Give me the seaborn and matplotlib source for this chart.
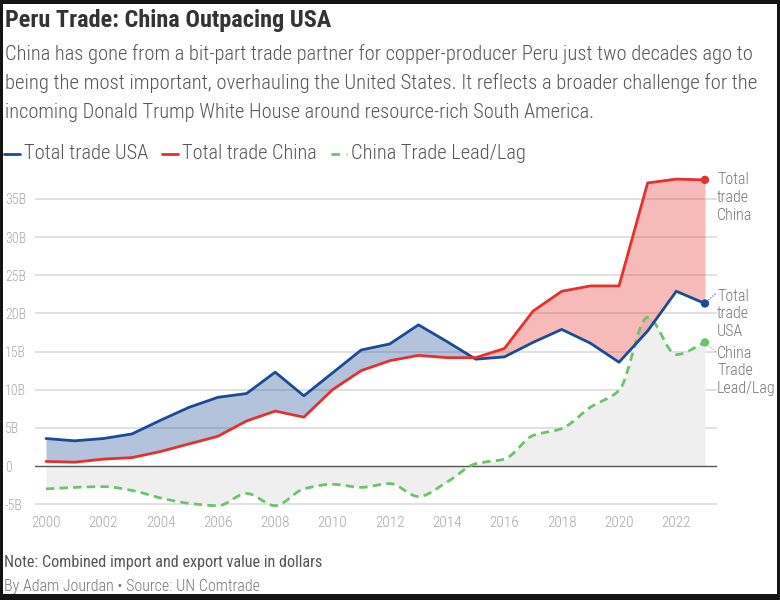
import numpy as np
import pandas as pd
import matplotlib
matplotlib.use("Agg")
import matplotlib.pyplot as plt
import seaborn as sns
from matplotlib import font_manager
from matplotlib.patches import Rectangle
from matplotlib.lines import Line2D

# ---------------- data ----------------
years = list(range(2000, 2024))
usa_trade = [3.6, 3.3, 3.6, 4.2, 6.0, 7.7, 9.0, 9.5, 12.3, 9.2, 12.2, 15.2,
             16.0, 18.5, 16.3, 14.0, 14.3, 16.2, 17.9, 16.1, 13.6, 17.7, 22.9, 21.3]
china_trade = [0.6, 0.5, 0.9, 1.1, 1.9, 2.9, 3.9, 5.9, 7.2, 6.4, 10.0, 12.5,
               13.8, 14.5, 14.2, 14.2, 15.4, 20.3, 22.9, 23.6, 23.6, 37.1, 37.6, 37.5]
lead_lag = [-3.0, -2.8, -2.7, -3.2, -4.2, -4.9, -5.2, -3.6, -5.2, -3.0, -2.4, -2.8,
            -2.3, -4.0, -2.1, 0.3, 0.9, 4.0, 4.9, 7.7, 9.9, 19.5, 14.6, 16.2]
y_ticks = [-5, 0, 5, 10, 15, 20, 25, 30, 35]
y_tick_labels = ["-5B", "0", "5B", "10B", "15B", "20B", "25B", "30B", "35B"]
x_ticks = list(range(2000, 2023, 2))

df = pd.DataFrame({"year": years, "usa": usa_trade, "china": china_trade, "lead": lead_lag})

# ---------------- style ----------------
sns.set_theme(style="white")
avail = {f.name for f in font_manager.fontManager.ttflist}
FONT = "Roboto Condensed" if "Roboto Condensed" in avail else "Lato"
plt.rcParams["font.family"] = [FONT, "DejaVu Sans"]
LIGHT = "light"

C_USA = "#1a4b94"
C_CHN = "#e5302d"
C_LEAD = "#6cc46a"
C_TICK = "#a8a8a8"

W, H = 780, 600
fig = plt.figure(figsize=(W / 100, H / 100), dpi=100)
fig.patch.set_facecolor("#141414")
fig.add_artist(Rectangle((3 / W, 6 / H), (777 - 3) / W, (596 - 6) / H,
                         transform=fig.transFigure, facecolor="white",
                         edgecolor="none", zorder=-10))
renderer = fig.canvas.get_renderer()

def fx(px):
    return px / W

def fy(py):
    return 1 - py / H

def fit_text(x, y, s, width, size0=12, **kw):
    t = fig.text(fx(x), fy(y), s, ha="left", va="center", fontsize=size0, **kw)
    w = t.get_window_extent(renderer).width
    t.set_fontsize(size0 * width / w)
    return t

ax_l, ax_r, ax_t, ax_b = 35, 717, 170, 510
ax = fig.add_axes([fx(ax_l), fy(ax_b), (ax_r - ax_l) / W, (ax_b - ax_t) / H])
ax.set_facecolor("none")

def monotone_curve(x, y, n=20):
    x = np.asarray(x, float); y = np.asarray(y, float)
    h = np.diff(x); d = np.diff(y) / h
    m = np.zeros_like(y)
    m[0], m[-1] = d[0], d[-1]
    for i in range(1, len(y) - 1):
        if d[i - 1] * d[i] <= 0:
            m[i] = 0
        else:
            w1 = 2 * h[i] + h[i - 1]; w2 = h[i] + 2 * h[i - 1]
            m[i] = (w1 + w2) / (w1 / d[i - 1] + w2 / d[i])
    xs, ys = [], []
    for i in range(len(x) - 1):
        t = np.linspace(0, 1, n, endpoint=False)
        h00 = 2 * t**3 - 3 * t**2 + 1; h10 = t**3 - 2 * t**2 + t
        h01 = -2 * t**3 + 3 * t**2; h11 = t**3 - t**2
        xs.append(x[i] + t * h[i])
        ys.append(h00 * y[i] + h10 * h[i] * m[i] + h01 * y[i + 1] + h11 * h[i] * m[i + 1])
    xs.append([x[-1]]); ys.append([y[-1]])
    return np.concatenate(xs), np.concatenate(ys)

sx, sy = monotone_curve(df["year"], df["lead"])

ax.fill_between(sx, 0, sy, color="#efefef", lw=0, zorder=1)
ax.fill_between(df["year"], df["china"], df["usa"], where=df["usa"] >= df["china"],
                interpolate=True, color=C_USA, alpha=0.33, lw=0, zorder=2)
ax.fill_between(df["year"], df["china"], df["usa"], where=df["china"] >= df["usa"],
                interpolate=True, color=C_CHN, alpha=0.33, lw=0, zorder=2)

for v in y_ticks:
    if v == 0:
        ax.axhline(0, color="#555555", lw=1.0, zorder=3)
    else:
        ax.axhline(v, color="#d9d9d9", lw=1.1, zorder=0.5)

sns.lineplot(x=sx, y=sy, ax=ax, color=C_LEAD, lw=2.0,
             linestyle=(0, (3.0, 1.9)), zorder=4)
sns.lineplot(data=df, x="year", y="usa", ax=ax, color=C_USA, lw=2.0, zorder=5)
sns.lineplot(data=df, x="year", y="china", ax=ax, color=C_CHN, lw=2.0, zorder=5)

last = df.iloc[-1]
ax.scatter([last["year"]] * 3, [last["china"], last["usa"], last["lead"]],
           c=[C_CHN, C_USA, C_LEAD], s=36, zorder=6, linewidths=0)

lab_x = 2023 + (718 - 705) / 28.65
ax.plot([last["year"] + 0.05, lab_x - 0.05], [last["usa"] + 0.2, last["usa"] + 1.4],
        color=C_USA, lw=0.8, ls=(0, (1, 1.5)), zorder=5, clip_on=False)
ax.plot([last["year"] + 0.05, lab_x - 0.05], [last["lead"] - 0.2, last["lead"] - 1.3],
        color=C_LEAD, lw=0.8, ls=(0, (1, 1.5)), zorder=5, clip_on=False)

end_labels = [("Total\ntrade\nChina", 180), ("Total\ntrade\nUSA", 296), ("China\nTrade\nLead/Lag", 353)]
for txt, py in end_labels:
    for k, ln in enumerate(txt.split("\n")):
        fig.text(fx(717), fy(py + k * 17.5), ln, ha="left", va="center",
                 fontsize=11.5, color="#777777", fontweight=LIGHT)

ax.set_xlim(2000 + (ax_l - 46) / 28.65, 2000 + (ax_r - 46) / 28.65)
ax.set_ylim((466 - ax_b) / 7.63, (466 - ax_t) / 7.63)
ax.set_xticks(x_ticks)
ax.set_xticklabels([str(x) for x in x_ticks], fontweight=LIGHT)
ax.set_yticks(y_ticks)
ax.set_yticklabels(y_tick_labels, fontweight=LIGHT)
ax.tick_params(axis="x", length=0, pad=4.5, labelsize=11, labelcolor=C_TICK)
ax.tick_params(axis="y", length=0, pad=21.6, labelsize=10, labelcolor=C_TICK)
for lab in ax.get_yticklabels():
    lab.set_horizontalalignment("left")
ax.set_xlabel(""); ax.set_ylabel("")
for s in ax.spines.values():
    s.set_visible(False)

fit_text(5, 20, "Peru Trade: China Outpacing USA", 326, size0=15,
         fontweight="bold", color="#333333")
sub = [("China has gone from a bit-part trade partner for copper-producer Peru just two decades ago to", 751),
       ("being the most important, overhauling the United States. It reflects a broader challenge for the", 754),
       ("incoming Donald Trump White House around resource-rich South America.", 592)]
for i, (s, wd) in enumerate(sub):
    fit_text(5, 54 + 29 * i, s, wd, size0=13.5, color="#555555", fontweight=LIGHT)

leg_y = 154
fig.add_artist(Line2D([fx(4), fx(20)], [fy(leg_y), fy(leg_y)], color=C_USA, lw=2))
fit_text(24, leg_y, "Total trade USA", 124, size0=12.5, color="#555555", fontweight=LIGHT)
fig.add_artist(Line2D([fx(162), fx(178)], [fy(leg_y), fy(leg_y)], color=C_CHN, lw=2))
fit_text(182, leg_y, "Total trade China", 135, size0=12.5, color="#555555", fontweight=LIGHT)
fig.add_artist(Line2D([fx(331), fx(347)], [fy(leg_y), fy(leg_y)], color=C_LEAD, lw=2,
                      linestyle=(0, (3, 2.5))))
fit_text(351, leg_y, "China Trade Lead/Lag", 175, size0=12.5, color="#555555", fontweight=LIGHT)

fit_text(4, 563, "Note: Combined import and export value in dollars", 319, size0=10.5,
         color="#555555")
fit_text(4, 586, "By Adam Jourdan \u2022 Source: UN Comtrade", 256, size0=10.5,
         color="#777777", fontweight=LIGHT)

fig.savefig("out.png", dpi=100, facecolor=fig.get_facecolor())
